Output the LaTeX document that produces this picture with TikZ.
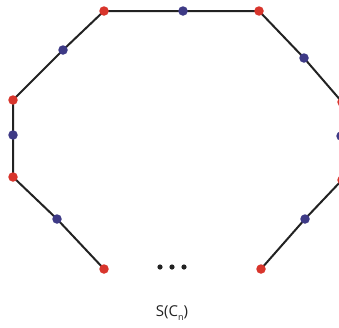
\documentclass[tikz,border=0pt]{standalone}
\usepackage{fontspec}
\setsansfont{Open Sans}
\usetikzlibrary{backgrounds}
\definecolor{vred}{HTML}{D8352C}
\definecolor{vblue}{HTML}{3E3A86}
\definecolor{edgeblk}{HTML}{222222}

\begin{document}
\begin{tikzpicture}[x=1pt,y=-1pt,
  reddot/.style={circle,fill=vred,inner sep=0pt,minimum size=9.5pt},
  bluedot/.style={circle,fill=vblue,inner sep=0pt,minimum size=9.5pt},
  cedge/.style={draw=edgeblk,line width=2pt}]
\useasboundingbox (0,0) rectangle (339,327);
\clip (0,0) rectangle (339,327);
% vertices of the subdivided cycle
\node[reddot]  (r1) at (104,11)  {};
\node[bluedot] (b1) at (183,11)  {};
\node[reddot]  (r2) at (259,11)  {};
\node[bluedot] (b2) at (304,58)  {};
\node[reddot]  (r3) at (342,102) {};
\node[bluedot] (b3) at (341,136) {};
\node[reddot]  (r4) at (342,180) {};
\node[bluedot] (b4) at (305,219) {};
\node[reddot]  (r5) at (261,269) {};
\node[reddot]  (r8) at (13,100)  {};
\node[bluedot] (b8) at (63,50)   {};
\node[bluedot] (b7) at (13,135)  {};
\node[reddot]  (r7) at (13,177)  {};
\node[bluedot] (b6) at (57,219)  {};
\node[reddot]  (r6) at (104,269) {};
% edges
\begin{scope}[on background layer]
\draw[cedge] (r6.center) -- (b6.center) -- (r7.center) -- (b7.center) -- (r8.center)
  -- (b8.center) -- (r1.center) -- (b1.center) -- (r2.center) -- (b2.center)
  -- (r3.center) -- (b3.center) -- (r4.center) -- (b4.center) -- (r5.center);
\end{scope}
% gap and label
\foreach \i in {-1,0,1}
  \fill[edgeblk] (172+12*\i,267) circle (2.6pt);
\node[font=\sffamily\fontsize{15}{17}\selectfont,text=edgeblk] (lbl) at (172,313)
  {S(C\raisebox{-3.5pt}{\fontsize{9}{9}\selectfont n})};
\end{tikzpicture}
\end{document}
